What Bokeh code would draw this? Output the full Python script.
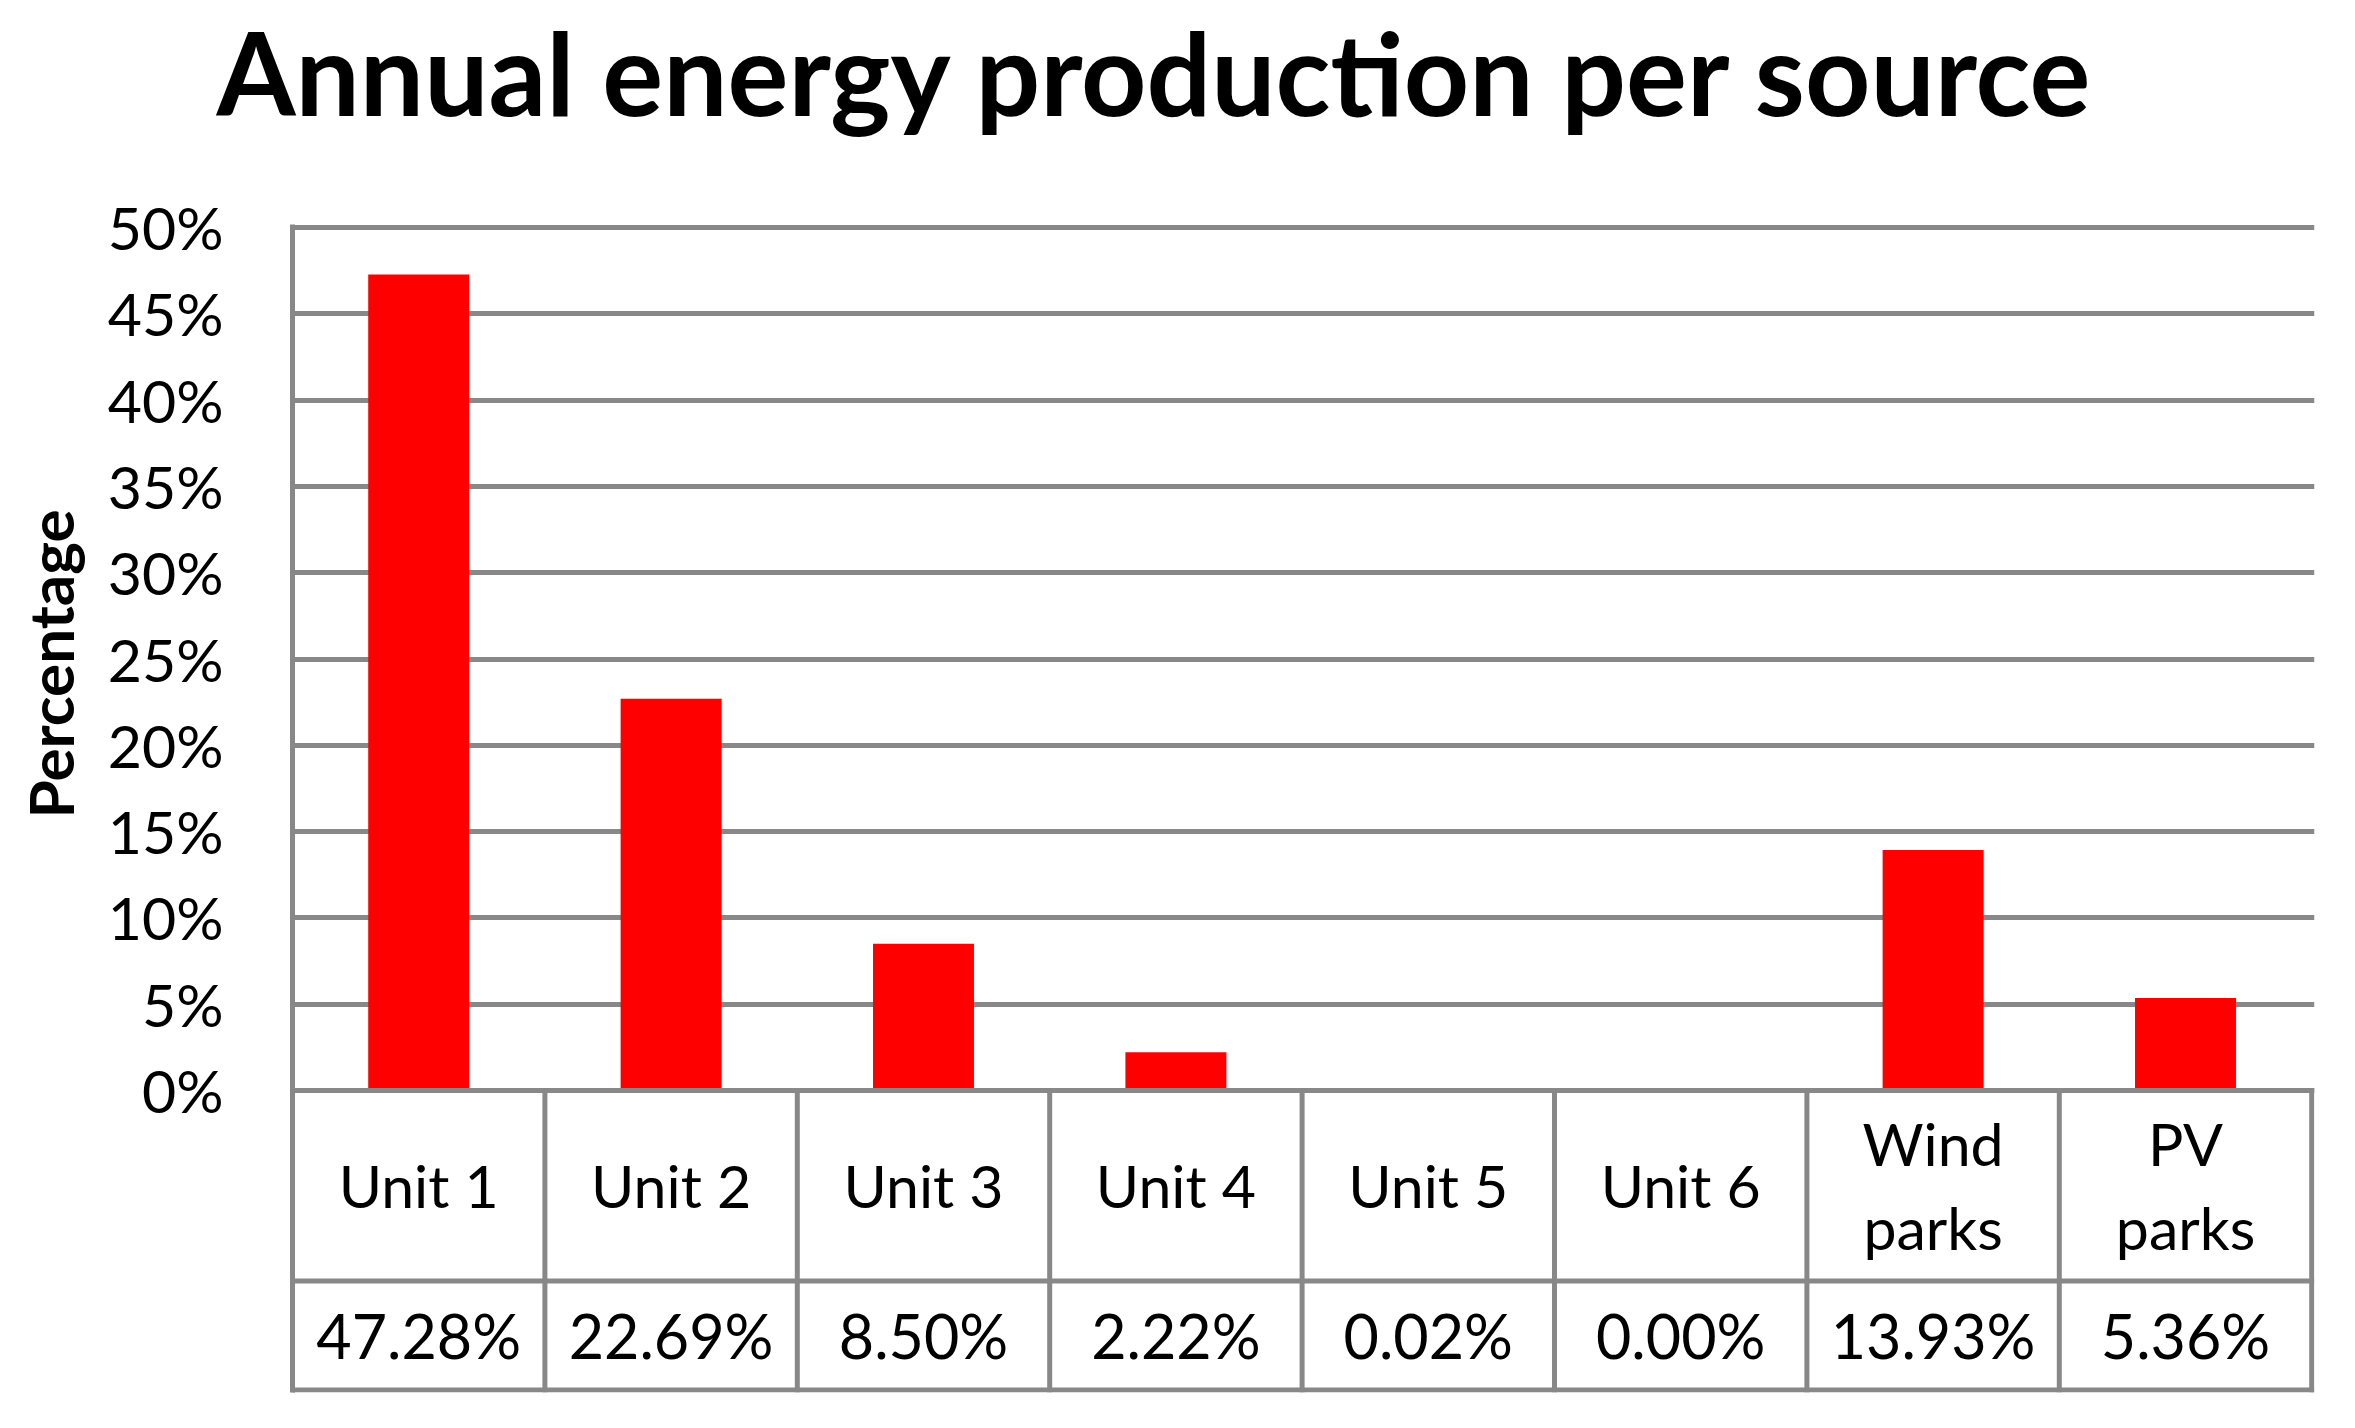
from bokeh.plotting import figure
from bokeh.models import Title, FixedTicker, Range1d
from bokeh.core.properties import value
from bokeh.embed import file_html
from bokeh.resources import INLINE

# ---------------- data ----------------
TITLE = "Annual energy production per source"
Y_LABEL = "Percentage"
CATEGORIES = ["Unit 1", "Unit 2", "Unit 3", "Unit 4", "Unit 5", "Unit 6",
              "Wind\nparks", "PV\nparks"]
SHARES = [47.28, 22.69, 8.50, 2.22, 0.02, 0.00, 13.93, 5.36]
Y_TICKS = [0, 5, 10, 15, 20, 25, 30, 35, 40, 45, 50]
Y_TICK_LABELS = ["0%", "5%", "10%", "15%", "20%", "25%", "30%", "35%",
                 "40%", "45%", "50%"]

# ---------------- layout (pixels) ----------------
W, H = 2339, 1412
LEFT, RIGHT, TOP, BOTTOM = 292, 25, 224, 20
FRAME_W = W - LEFT - RIGHT
FRAME_H = H - TOP - BOTTOM
N = len(CATEGORIES)
COL_PX = 252.4          # pixels per category column
PX_PER_UNIT = 17.26     # pixels per percentage point
ZERO_FROM_TOP = 866     # frame top -> zero line
ROW_LINE_PX = 190.5     # zero line -> table inner line
TABLE_BOTTOM_PX = 299.5 # zero line -> table bottom line

x_end = FRAME_W / COL_PX
y_end = ZERO_FROM_TOP / PX_PER_UNIT
y_start = y_end - FRAME_H / PX_PER_UNIT
row_y = -ROW_LINE_PX / PX_PER_UNIT
bottom_y = -TABLE_BOTTOM_PX / PX_PER_UNIT

GRAY = "#888888"
FONT = "Lato"

p = figure(width=W, height=H, output_backend="svg", toolbar_location=None,
           x_range=Range1d(0, x_end), y_range=Range1d(y_start, y_end),
           x_axis_location=None, min_border_left=LEFT, min_border_right=RIGHT,
           min_border_top=TOP, min_border_bottom=BOTTOM)
p.outline_line_color = None
p.background_fill_color = "white"
p.border_fill_color = "white"

ticker = FixedTicker(ticks=Y_TICKS)
p.yaxis.ticker = ticker
p.yaxis.major_label_overrides = {t: l for t, l in zip(Y_TICKS, Y_TICK_LABELS)}
p.yaxis.major_label_text_font = FONT
p.yaxis.major_label_text_font_size = "59px"
p.yaxis.major_label_text_color = "black"
p.yaxis.axis_line_color = GRAY
p.yaxis.axis_line_width = 5
p.yaxis.major_tick_line_color = None
p.yaxis.minor_tick_line_color = None
p.yaxis.major_tick_out = 0
p.yaxis.major_tick_in = 0
p.yaxis.major_label_standoff = 69

p.ygrid.ticker = ticker
p.ygrid.grid_line_color = GRAY
p.ygrid.grid_line_width = 5
p.xgrid.visible = False

xs = [i + 0.5 for i in range(N)]
p.vbar(x=xs, top=SHARES, bottom=0, width=0.4, fill_color="#FF0000",
       line_color=None)

# table lines
edges = list(range(N + 1))
p.segment(x0=edges, y0=[0] * len(edges), x1=edges, y1=[bottom_y] * len(edges),
          line_color=GRAY, line_width=5, line_cap="square")
p.segment(x0=[0, 0, 0], x1=[N, N, N], y0=[0, row_y, bottom_y],
          y1=[0, row_y, bottom_y], line_color=GRAY, line_width=5,
          line_cap="square")

# table text
p.text(x=xs, y=[0] * N, text=CATEGORIES, y_offset=95, text_align="center",
       text_baseline="middle", text_font=value(FONT), text_font_size="59px",
       text_color="black", text_line_height=1.19)
p.text(x=xs, y=[0] * N, text=[f"{v:.2f}%" for v in SHARES], y_offset=245,
       text_align="center", text_baseline="middle", text_font=value(FONT),
       text_font_size="61px", text_color="black")

# title (spacer nearest the frame, then the title itself)
p.add_layout(Title(text=" ", text_font_size="1px", standoff=82), "above")
p.add_layout(Title(text=TITLE, align="left", offset=-76, standoff=0,
                   vertical_align="bottom", text_font=FONT,
                   text_font_style="bold", text_font_size="114px",
                   text_color="black"), "above")

# y-axis title (spacer next to the tick labels, then the label)
p.add_layout(Title(text=" ", text_font_size="1px", standoff=15), "left")
p.add_layout(Title(text=Y_LABEL, align="left", offset=574, standoff=0,
                   vertical_align="bottom", text_font=FONT,
                   text_font_style="bold", text_font_size="62px",
                   text_color="black"), "left")

open("out.html", "w").write(file_html(p, INLINE))
